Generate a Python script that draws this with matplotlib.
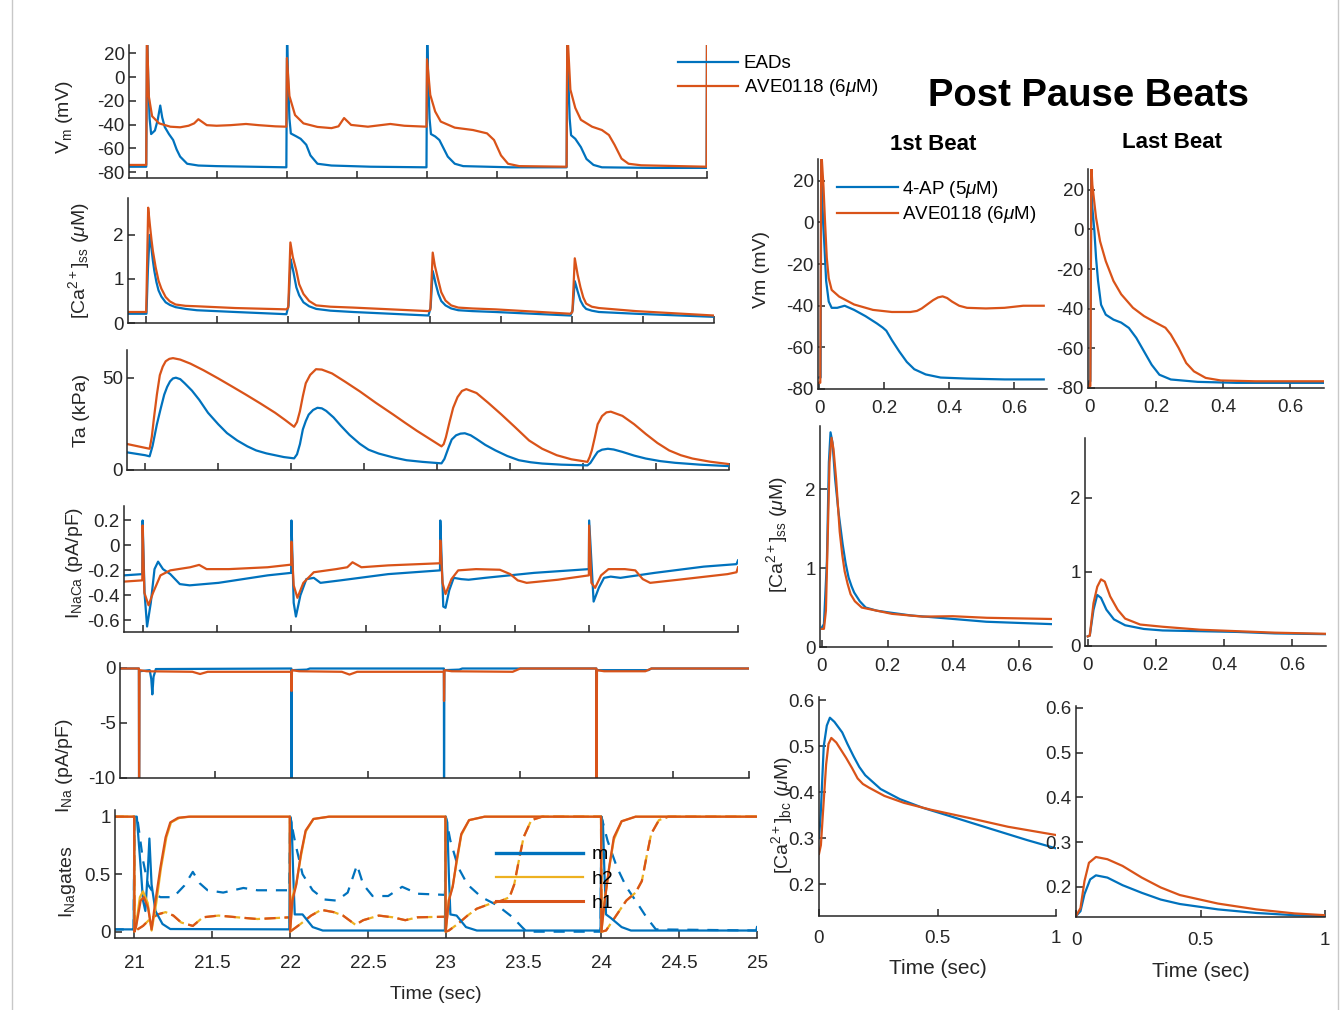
import matplotlib
matplotlib.use('Agg')
from matplotlib import pyplot as plt
from matplotlib.lines import Line2D

BLUE = '#0072BD'
ORANGE = '#D95319'
YELLOW = '#EDB120'

# ---- left column: 4 paced beats (time in s) ----
# membrane potential (mV)
vm_ead = [(20.87, -75.5), (20.998, -75.5), (21.004, 38), (21.012, 0), (21.022, -35), (21.033, -48),
          (21.06, -45), (21.08, -36), (21.098, -24), (21.112, -34), (21.13, -42), (21.16, -48),
          (21.19, -53), (21.215, -61), (21.24, -67), (21.29, -73), (21.37, -74.5), (21.5, -75),
          (21.998, -76), (22.003, 38), (22.01, 0), (22.02, -35), (22.03, -47.5), (22.07, -50),
          (22.1, -52), (22.14, -57), (22.17, -66), (22.22, -73), (22.32, -74.5), (22.6, -75.5),
          (22.998, -76), (23.003, 38), (23.01, 0), (23.02, -35), (23.03, -48), (23.06, -50),
          (23.09, -53), (23.12, -60), (23.15, -67), (23.2, -73), (23.26, -75), (23.6, -76),
          (23.998, -76), (24.003, 38), (24.01, 0), (24.02, -35), (24.03, -49), (24.06, -52),
          (24.1, -59), (24.14, -69), (24.19, -74), (24.25, -76), (24.6, -76.5), (24.997, -76.5),
          (25.0, 38)]
vm_ave = [(20.87, -74), (20.998, -74), (21.003, 40), (21.016, -16), (21.04, -33), (21.09, -39),
          (21.17, -41.8), (21.24, -42.3), (21.3, -41), (21.34, -39), (21.37, -35.5), (21.4, -38),
          (21.43, -40.5), (21.5, -41), (21.6, -40.5), (21.71, -39.5), (21.8, -40.5), (21.92, -41.5),
          (21.998, -41.8), (22.002, 16), (22.02, -16), (22.06, -32), (22.12, -39), (22.22, -42),
          (22.32, -43), (22.37, -41.5), (22.41, -34.5), (22.46, -40.3), (22.58, -41.8), (22.74, -39.5),
          (22.84, -41), (22.998, -41.8), (23.002, 15), (23.025, -15), (23.06, -29), (23.1, -37.5),
          (23.2, -42.6), (23.33, -44.6), (23.43, -47.4), (23.48, -53), (23.53, -66), (23.58, -73),
          (23.66, -75), (23.998, -75.5), (24.003, 40), (24.025, -10.6), (24.06, -26), (24.1, -36),
          (24.18, -41.8), (24.25, -44.6), (24.3, -48.8), (24.34, -57), (24.39, -68.7), (24.44, -73),
          (24.53, -74.3), (24.997, -75.5), (25.0, 40)]

# subspace calcium (uM)
cass_ead = [(20.87, 0.21), (21.005, 0.21), (21.015, 1.2), (21.027, 2.0), (21.04, 1.7), (21.05, 1.42),
            (21.06, 1.19), (21.075, 0.93), (21.09, 0.74), (21.11, 0.6), (21.14, 0.47), (21.17, 0.41),
            (21.21, 0.36), (21.28, 0.32), (21.36, 0.29), (21.63, 0.25), (21.99, 0.2),
            (22.005, 0.4), (22.02, 1.45), (22.03, 1.3), (22.04, 1.15), (22.06, 0.81), (22.08, 0.63),
            (22.11, 0.47), (22.15, 0.38), (22.2, 0.32), (22.3, 0.28), (22.46, 0.25), (22.99, 0.17),
            (23.005, 0.35), (23.02, 1.18), (23.03, 1.05), (23.04, 0.9), (23.06, 0.66), (23.08, 0.5),
            (23.11, 0.4), (23.15, 0.33), (23.2, 0.29), (23.3, 0.27), (23.46, 0.25), (23.99, 0.17),
            (24.005, 0.3), (24.02, 0.95), (24.03, 0.84), (24.04, 0.72), (24.06, 0.51), (24.08, 0.39),
            (24.1, 0.32), (24.14, 0.28), (24.19, 0.25), (24.45, 0.21), (25.0, 0.14)]
cass_ave = [(20.87, 0.25), (21.003, 0.25), (21.017, 2.62), (21.03, 2.2), (21.04, 1.9), (21.05, 1.64),
            (21.07, 1.26), (21.09, 0.96), (21.11, 0.78), (21.14, 0.59), (21.17, 0.49), (21.21, 0.42),
            (21.28, 0.39), (21.36, 0.38), (21.63, 0.34), (21.99, 0.31), (22.003, 0.35),
            (22.018, 1.83), (22.035, 1.5), (22.06, 1.19), (22.08, 0.88), (22.11, 0.66), (22.15, 0.5),
            (22.2, 0.4), (22.3, 0.37), (22.46, 0.35), (22.99, 0.27), (23.003, 0.3), (23.02, 1.6),
            (23.035, 1.3), (23.06, 0.96), (23.08, 0.7), (23.11, 0.51), (23.15, 0.4), (23.2, 0.35),
            (23.3, 0.33), (23.46, 0.31), (23.99, 0.21), (24.003, 0.25), (24.02, 1.47), (24.04, 1.1),
            (24.06, 0.81), (24.08, 0.58), (24.1, 0.44), (24.14, 0.37), (24.19, 0.34), (24.45, 0.27),
            (25.0, 0.17)]

# active tension (kPa)
ta_ead = [(20.88, 9.5), (21.0, 8.0), (21.03, 7.4), (21.05, 13), (21.08, 24.8), (21.105, 33),
          (21.13, 40.8), (21.15, 45), (21.17, 48), (21.19, 49.6), (21.21, 50), (21.24, 49.2),
          (21.27, 47), (21.32, 43), (21.37, 38), (21.43, 31), (21.5, 24.8), (21.56, 20), (21.63, 16),
          (21.7, 12.8), (21.76, 10.6), (21.83, 9), (21.89, 8), (21.95, 7), (22.02, 6.3),
          (22.04, 8.5), (22.06, 14), (22.08, 22), (22.1, 26.5), (22.12, 30), (22.15, 32.5),
          (22.18, 33.7), (22.21, 33.4), (22.24, 32), (22.29, 28.5), (22.34, 24), (22.4, 19),
          (22.47, 14.2), (22.53, 11), (22.6, 8.9), (22.7, 6.8), (22.79, 5.3), (22.9, 4.4),
          (23.03, 3.6), (23.05, 6), (23.08, 12.5), (23.1, 16.5), (23.13, 18.8), (23.16, 19.7),
          (23.19, 19.9), (23.23, 18.8), (23.27, 16.8), (23.33, 13.6), (23.4, 10.6), (23.48, 7.6),
          (23.56, 5.3), (23.64, 4.2), (23.72, 3.5), (23.85, 2.9), (24.03, 2.5), (24.05, 3.8),
          (24.08, 7.5), (24.1, 9.8), (24.13, 11.0), (24.17, 11.5), (24.21, 11.1), (24.27, 9.8),
          (24.35, 7.8), (24.43, 6.2), (24.53, 4.8), (24.63, 3.9), (24.8, 2.9), (25.0, 2.1)]
ta_ave = [(20.88, 14), (21.0, 12), (21.03, 11.5), (21.045, 18), (21.06, 28.4), (21.08, 41),
          (21.1, 51.4), (21.12, 56), (21.14, 58.9), (21.165, 60.2), (21.19, 60.6), (21.24, 59.8),
          (21.31, 57.6), (21.4, 54), (21.5, 49.6), (21.6, 45), (21.69, 40.8), (21.79, 36),
          (21.89, 31), (21.96, 27), (22.02, 23.4), (22.04, 26), (22.06, 31.9), (22.08, 40),
          (22.1, 47), (22.13, 51.5), (22.17, 54.6), (22.21, 54.4), (22.28, 52.3), (22.37, 47.8),
          (22.47, 42.6), (22.58, 36.4), (22.7, 30), (22.78, 25.6), (22.86, 21.3), (22.95, 16.8),
          (23.03, 12.8), (23.045, 14), (23.06, 17.7), (23.085, 26), (23.11, 33.7), (23.14, 39.5),
          (23.17, 42.8), (23.2, 43.8), (23.27, 41.7), (23.35, 36.4), (23.44, 30.1), (23.53, 23.5),
          (23.63, 16), (23.72, 11.5), (23.82, 8), (23.92, 5.8), (24.03, 4.4), (24.045, 7),
          (24.06, 10.6), (24.08, 17.5), (24.1, 24.8), (24.13, 29.2), (24.16, 31.2), (24.19, 31.6),
          (24.27, 29.3), (24.35, 24.8), (24.43, 19.5), (24.51, 14.6), (24.59, 10.6), (24.67, 8),
          (24.75, 6.2), (24.87, 4.5), (25.0, 3.2)]

# Na/Ca exchanger current (pA/pF)
inaca_ead = [(20.876, -0.24), (20.998, -0.23), (21.0, 0.2), (21.013, -0.38), (21.03, -0.65),
             (21.055, -0.46), (21.08, -0.19), (21.104, -0.13), (21.137, -0.19), (21.186, -0.23),
             (21.25, -0.31), (21.316, -0.32), (21.51, -0.3), (21.84, -0.24), (21.998, -0.22),
             (22.0, 0.2), (22.015, -0.46), (22.03, -0.57), (22.06, -0.4), (22.1, -0.27), (22.15, -0.26),
             (22.195, -0.3), (22.33, -0.28), (22.65, -0.23), (22.998, -0.2), (23.0, 0.2), (23.02, -0.49),
             (23.035, -0.5), (23.06, -0.36), (23.09, -0.26), (23.14, -0.27), (23.19, -0.275),
             (23.3, -0.26), (23.63, -0.22), (23.998, -0.19), (24.0, 0.2), (24.03, -0.45),
             (24.065, -0.34), (24.1, -0.26), (24.145, -0.25), (24.21, -0.26), (24.44, -0.22),
             (24.77, -0.17), (24.99, -0.15), (25.0, -0.12)]
inaca_ave = [(20.876, -0.29), (20.998, -0.28), (21.0, 0.16), (21.012, -0.38), (21.04, -0.48),
             (21.07, -0.38), (21.12, -0.24), (21.186, -0.2), (21.32, -0.175), (21.38, -0.156),
             (21.43, -0.19), (21.58, -0.19), (21.84, -0.175), (21.998, -0.154), (22.0, 0.03),
             (22.015, -0.32), (22.04, -0.42), (22.08, -0.3), (22.15, -0.215), (22.3, -0.19),
             (22.375, -0.175), (22.41, -0.135), (22.47, -0.175), (22.65, -0.16), (22.998, -0.143),
             (23.0, 0.04), (23.015, -0.3), (23.035, -0.39), (23.075, -0.27), (23.12, -0.2),
             (23.24, -0.19), (23.4, -0.195), (23.47, -0.23), (23.52, -0.28), (23.58, -0.3),
             (23.79, -0.275), (23.998, -0.24), (24.0, 0.16), (24.015, -0.3), (24.04, -0.34),
             (24.08, -0.24), (24.13, -0.19), (24.24, -0.19), (24.31, -0.2), (24.36, -0.27),
             (24.41, -0.3), (24.6, -0.275), (24.93, -0.23), (24.99, -0.215), (25.0, -0.175)]

# fast Na current (pA/pF), spikes go below the axis
ina_ead = [(20.87, -0.05), (20.999, -0.05), (21.0, -11), (21.002, -0.3), (21.07, -0.2), (21.08, -1.0),
           (21.087, -2.4), (21.095, -0.8), (21.11, -0.1), (21.999, -0.05), (22.0, -11), (22.002, -0.2),
           (22.1, -0.15), (22.12, -0.05), (22.999, -0.05), (23.0, -11), (23.002, -0.2), (23.1, -0.15),
           (23.12, -0.05), (23.999, -0.05), (24.0, -11), (24.002, -0.2), (24.34, -0.2), (24.36, -0.05),
           (25.0, -0.05)]
ina_ave = [(20.87, -0.05), (20.999, -0.05), (21.0, -11), (21.003, -0.2), (21.05, -0.3), (21.35, -0.35),
           (21.4, -0.55), (21.45, -0.35), (21.999, -0.35), (22.0, -2.1), (22.003, -0.2), (22.05, -0.3),
           (22.33, -0.35), (22.38, -0.6), (22.43, -0.35), (22.999, -0.35), (23.0, -3.0), (23.003, -0.2),
           (23.05, -0.3), (23.45, -0.35), (23.5, -0.05), (23.999, -0.05), (24.0, -11), (24.003, -0.2),
           (24.05, -0.3), (24.32, -0.3), (24.36, -0.05), (25.0, -0.05)]

# INa gates (solid = EADs, dashed = AVE0118)
m_ead = [(20.86, 0.02), (20.995, 0.02), (21.0, 1.0), (21.015, 1.0), (21.04, 0.56), (21.055, 0.27),
         (21.07, 0.18), (21.087, 0.56), (21.096, 0.81), (21.11, 0.41), (21.135, 0.18), (21.18, 0.067),
         (21.23, 0.023), (21.995, 0.02), (22.0, 1.0), (22.01, 0.95), (22.02, 0.5), (22.03, 0.15),
         (22.08, 0.15), (22.145, 0.04), (22.21, 0.01), (22.995, 0.01), (23.0, 1.0), (23.01, 0.95),
         (23.02, 0.5), (23.03, 0.15), (23.07, 0.14), (23.13, 0.04), (23.2, 0.01), (23.995, 0.01),
         (24.0, 1.0), (24.01, 0.95), (24.02, 0.5), (24.03, 0.15), (24.06, 0.12), (24.13, 0.04),
         (24.19, 0.01), (24.995, 0.01), (25.0, 0.04)]
m_ave = [(20.86, 0.02), (20.995, 0.02), (21.0, 1.0), (21.02, 0.97), (21.055, 0.62), (21.087, 0.41),
         (21.125, 0.33), (21.167, 0.3), (21.25, 0.3), (21.32, 0.4), (21.375, 0.52), (21.42, 0.42),
         (21.47, 0.36), (21.57, 0.34), (21.7, 0.38), (21.79, 0.36), (21.995, 0.36), (22.0, 1.0),
         (22.035, 0.76), (22.08, 0.5), (22.145, 0.36), (22.22, 0.28), (22.3, 0.27), (22.37, 0.34),
         (22.41, 0.5), (22.43, 0.58), (22.47, 0.41), (22.53, 0.31), (22.63, 0.31), (22.72, 0.39),
         (22.82, 0.33), (22.995, 0.32), (23.0, 1.0), (23.03, 0.79), (23.08, 0.56), (23.14, 0.41),
         (23.23, 0.3), (23.33, 0.23), (23.43, 0.125), (23.49, 0.04), (23.52, 0.0), (23.995, 0.0),
         (24.0, 1.0), (24.04, 0.79), (24.1, 0.56), (24.16, 0.39), (24.22, 0.27), (24.29, 0.125),
         (24.35, 0.02), (25.0, 0.01)]
h1_ead = [(20.86, 1.0), (20.998, 1.0), (21.0, 0.0), (21.01, 0.04), (21.04, 0.27), (21.06, 0.3),
          (21.087, 0.21), (21.11, 0.02), (21.135, 0.27), (21.167, 0.56), (21.2, 0.82), (21.23, 0.95),
          (21.28, 0.99), (21.35, 1.0), (21.998, 1.0), (22.0, 0.0), (22.015, 0.27), (22.04, 0.41),
          (22.07, 0.68), (22.1, 0.88), (22.15, 0.98), (22.25, 1.0), (22.998, 1.0), (23.0, 0.0),
          (23.02, 0.27), (23.045, 0.39), (23.07, 0.62), (23.1, 0.85), (23.15, 0.97), (23.25, 1.0),
          (23.998, 1.0), (24.0, 0.0), (24.02, 0.25), (24.05, 0.56), (24.08, 0.82), (24.13, 0.96),
          (24.22, 1.0), (25.0, 1.0)]
h2_ead = [(20.86, 1.0), (20.998, 1.0), (21.0, 0.0), (21.01, 0.05), (21.035, 0.3), (21.055, 0.35),
          (21.085, 0.25), (21.11, 0.01), (21.14, 0.25), (21.17, 0.55), (21.205, 0.82), (21.235, 0.95),
          (21.29, 0.99), (21.36, 1.0), (21.998, 1.0), (22.0, 0.0), (22.015, 0.3), (22.04, 0.42),
          (22.07, 0.66), (22.1, 0.87), (22.15, 0.98), (22.25, 1.0), (22.998, 1.0), (23.0, 0.0),
          (23.02, 0.28), (23.045, 0.4), (23.07, 0.6), (23.1, 0.84), (23.15, 0.97), (23.25, 1.0),
          (23.998, 1.0), (24.0, 0.0), (24.02, 0.26), (24.05, 0.55), (24.08, 0.8), (24.13, 0.96),
          (24.22, 1.0), (25.0, 1.0)]
h1_ave = [(20.86, 1.0), (20.998, 1.0), (21.0, 0.0), (21.02, 0.02), (21.055, 0.05), (21.1, 0.11),
          (21.15, 0.15), (21.2, 0.17), (21.25, 0.14), (21.3, 0.08), (21.375, 0.05), (21.44, 0.125),
          (21.54, 0.14), (21.66, 0.125), (21.79, 0.11), (21.998, 0.125), (22.0, 0.0), (22.02, 0.02),
          (22.07, 0.07), (22.135, 0.14), (22.2, 0.19), (22.28, 0.17), (22.34, 0.14), (22.42, 0.06),
          (22.47, 0.1), (22.57, 0.14), (22.66, 0.125), (22.74, 0.1), (22.82, 0.125), (22.998, 0.13),
          (23.0, 0.0), (23.02, 0.01), (23.08, 0.07), (23.14, 0.14), (23.2, 0.2), (23.28, 0.24),
          (23.36, 0.27), (23.41, 0.3), (23.44, 0.41), (23.47, 0.62), (23.5, 0.82), (23.55, 0.97),
          (23.62, 1.0), (23.998, 1.0), (24.0, 0.0), (24.03, 0.01), (24.1, 0.15), (24.16, 0.27),
          (24.22, 0.34), (24.26, 0.44), (24.29, 0.65), (24.32, 0.85), (24.37, 0.97), (24.43, 1.0),
          (25.0, 1.0)]
h2_ave = list(h1_ave)  # the two dashed gates lie on top of each other

# ---- right column: post pause beats (time from stimulus, s) ----
vm_first_4ap = [(0.0, -74.5), (0.004, -74.5), (0.006, 30), (0.009, 10.5), (0.015, -9), (0.021, -28),
                (0.029, -38), (0.038, -41), (0.055, -41), (0.078, -40), (0.107, -42), (0.142, -45),
                (0.177, -48.5), (0.195, -50.5), (0.206, -52), (0.223, -56.5), (0.246, -62), (0.269, -67),
                (0.292, -70.5), (0.327, -73), (0.373, -74.5), (0.454, -75), (0.57, -75.4), (0.69, -75.4)]
vm_first_ave = [(0.0, -77), (0.003, -77), (0.006, 35), (0.013, 16.8), (0.017, 2.4), (0.023, -17),
                (0.029, -26.8), (0.038, -32.4), (0.061, -35.6), (0.107, -39.4), (0.165, -42),
                (0.223, -43), (0.28, -43), (0.3, -42.5), (0.315, -41.3), (0.335, -39), (0.35, -37.3),
                (0.365, -36), (0.379, -35.5), (0.393, -36.3), (0.408, -38), (0.43, -40), (0.454, -41),
                (0.512, -41.3), (0.569, -41), (0.627, -40), (0.69, -40)]
vm_last_4ap = [(0.0, -76.6), (0.003, -76.6), (0.006, 28), (0.009, 11), (0.015, -0.8), (0.02, -14.3),
               (0.026, -26), (0.035, -38), (0.049, -43), (0.072, -45.5), (0.095, -47), (0.118, -49.7),
               (0.14, -54.7), (0.163, -61.5), (0.186, -68.3), (0.209, -73.3), (0.243, -75.7),
               (0.323, -76.9), (0.438, -77.4), (0.7, -77.4)]
vm_last_ave = [(0.0, -79), (0.003, -79), (0.006, 32), (0.009, 22.5), (0.02, 5.9), (0.032, -6),
               (0.049, -16), (0.072, -26), (0.095, -32.7), (0.13, -39.5), (0.163, -43.7), (0.198, -47),
               (0.227, -49.6), (0.243, -53), (0.266, -59.7), (0.289, -67.4), (0.312, -71.6),
               (0.347, -74.9), (0.392, -76.2), (0.495, -76.6), (0.7, -76.6)]

cass_first_4ap = [(0.0, 0.25), (0.006, 0.29), (0.015, 1.09), (0.021, 2.34), (0.026, 2.72), (0.032, 2.59),
                  (0.04, 2.13), (0.05, 1.72), (0.063, 1.3), (0.072, 1.06), (0.081, 0.88), (0.09, 0.77),
                  (0.098, 0.69), (0.115, 0.58), (0.133, 0.5), (0.167, 0.46), (0.2, 0.44), (0.27, 0.4),
                  (0.386, 0.36), (0.5, 0.32), (0.698, 0.29)]
cass_first_ave = [(0.0, 0.23), (0.006, 0.23), (0.012, 0.46), (0.017, 1.3), (0.023, 2.34), (0.029, 2.65),
                  (0.035, 2.51), (0.043, 2.13), (0.054, 1.46), (0.062, 1.16), (0.069, 0.96),
                  (0.078, 0.8), (0.087, 0.67), (0.1, 0.58), (0.121, 0.5), (0.167, 0.46), (0.213, 0.42),
                  (0.306, 0.385), (0.398, 0.39), (0.502, 0.37), (0.698, 0.355)]
cass_last_4ap = [(0.0, 0.13), (0.006, 0.14), (0.017, 0.49), (0.028, 0.69), (0.039, 0.65), (0.055, 0.49),
                 (0.077, 0.36), (0.11, 0.28), (0.165, 0.23), (0.22, 0.21), (0.33, 0.2), (0.44, 0.19),
                 (0.55, 0.17), (0.7, 0.16)]
cass_last_ave = [(0.0, 0.13), (0.006, 0.14), (0.017, 0.58), (0.028, 0.8), (0.039, 0.9), (0.05, 0.87),
                 (0.066, 0.67), (0.088, 0.49), (0.11, 0.37), (0.154, 0.29), (0.22, 0.26), (0.33, 0.22),
                 (0.44, 0.2), (0.55, 0.18), (0.7, 0.165)]

cabc_first_4ap = [(0.0, 0.3), (0.007, 0.35), (0.02, 0.5), (0.033, 0.545), (0.046, 0.562), (0.065, 0.553),
                  (0.098, 0.53), (0.12, 0.505), (0.146, 0.478), (0.17, 0.455), (0.195, 0.437),
                  (0.26, 0.407), (0.341, 0.385), (0.439, 0.366), (0.553, 0.348), (0.715, 0.322),
                  (0.878, 0.296), (1.0, 0.278)]
cabc_first_ave = [(0.0, 0.266), (0.008, 0.285), (0.016, 0.35), (0.03, 0.46), (0.04, 0.505), (0.052, 0.518),
                  (0.073, 0.508), (0.114, 0.475), (0.14, 0.452), (0.163, 0.43), (0.185, 0.418),
                  (0.211, 0.41), (0.276, 0.392), (0.358, 0.377), (0.472, 0.362), (0.634, 0.344),
                  (0.797, 0.325), (1.0, 0.307)]
cabc_last_4ap = [(0.0, 0.135), (0.018, 0.146), (0.034, 0.184), (0.057, 0.217), (0.08, 0.226),
                 (0.126, 0.221), (0.187, 0.204), (0.264, 0.187), (0.34, 0.172), (0.417, 0.162),
                 (0.57, 0.15), (0.724, 0.142), (0.877, 0.137), (1.0, 0.135)]
cabc_last_ave = [(0.0, 0.135), (0.018, 0.153), (0.034, 0.213), (0.052, 0.254), (0.08, 0.267),
                 (0.126, 0.262), (0.187, 0.247), (0.264, 0.221), (0.34, 0.199), (0.417, 0.182),
                 (0.57, 0.163), (0.724, 0.15), (0.877, 0.141), (1.0, 0.137)]

beat_ticks = [21, 21.5, 22, 22.5, 23, 23.5, 24, 24.5, 25]
beat_ticklabels = ['21', '21.5', '22', '22.5', '23', '23.5', '24', '24.5', '25']


plt.rcParams['font.family'] = ['Liberation Sans', 'DejaVu Sans']
plt.rcParams['mathtext.fontset'] = 'custom'
plt.rcParams['mathtext.rm'] = 'Liberation Sans'
plt.rcParams['mathtext.it'] = 'Liberation Sans:italic'
plt.rcParams['mathtext.bf'] = 'Liberation Sans:bold'
plt.rcParams['axes.unicode_minus'] = False
plt.rcParams['font.size'] = 13

W, H = 1342, 1010
fig = plt.figure(figsize=(W / 100, H / 100), dpi=100)
AX_COLOR = '#262626'


def panel(box, xlim, ylim, xticks, yticks, ylabel=None, label_xy=None):
    """box is (left, top, right, bottom) in pixels"""
    l, t, r, b = box
    ax = fig.add_axes([l / W, 1 - b / H, (r - l) / W, (b - t) / H])
    ax.set_xlim(xlim)
    ax.set_ylim(ylim)
    ax.set_xticks(xticks)
    ax.set_yticks(yticks)
    for s in ['top', 'right']:
        ax.spines[s].set_visible(False)
    for s in ['left', 'bottom']:
        ax.spines[s].set_color(AX_COLOR)
        ax.spines[s].set_linewidth(1.1)
    ax.tick_params(direction='in', length=5, width=1.1, colors=AX_COLOR,
                   labelcolor=AX_COLOR, labelsize=13.5, pad=3)
    if ylabel:
        ax.set_ylabel(ylabel, fontsize=14, color=AX_COLOR)
        ax.yaxis.set_label_coords(*label_xy)
    return ax


def draw(ax, pairs, color, **kw):
    t, v = zip(*pairs)
    return ax.plot(t, v, color=color, lw=1.6, **kw)[0]


xl = (20.875, 25.0)

# Vm
ax = panel((129, 45, 707, 178), xl, (-85, 27), beat_ticks, [-80, -60, -40, -20, 0, 20],
           r'V$_{\rm m}$ (mV)', (-0.093, 0.46))
ax.set_xticklabels([])
l1 = draw(ax, vm_ead, BLUE)
l2 = draw(ax, vm_ave, ORANGE)
fig.legend([l1, l2], ['EADs', r'AVE0118 (6$\mu$M)'], loc='upper left',
           bbox_to_anchor=(667 / W, 1 - 44 / H), frameon=False, fontsize=13.5,
           handlelength=3.2, handletextpad=0.3, labelspacing=0.25, borderpad=0.1)

# Ca_ss
ax = panel((128, 198, 714, 323), xl, (0, 2.84), beat_ticks, [0, 1, 2],
           r'[Ca$^{2+}$]$_{\rm ss}$ ($\mu$M)', (-0.061, 0.5))
ax.set_xticklabels([])
draw(ax, cass_ead, BLUE)
draw(ax, cass_ave, ORANGE)

# Ta
ax = panel((127, 350, 729, 470), xl, (0, 65), beat_ticks, [0, 50],
           'Ta (kPa)', (-0.061, 0.5))
ax.set_xticklabels([])
draw(ax, ta_ead, BLUE)
draw(ax, ta_ave, ORANGE)

# INaCa
ax = panel((124, 506, 738, 632), xl, (-0.694, 0.316), beat_ticks, [-0.6, -0.4, -0.2, 0, 0.2],
           r'I$_{\rm NaCa}$ (pA/pF)', (-0.064, 0.55))
ax.set_xticklabels([])
ax.set_yticklabels(['-0.6', '-0.4', '-0.2', '0', '0.2'])
draw(ax, inaca_ead, BLUE)
draw(ax, inaca_ave, ORANGE)

# INa
ax = panel((120, 663, 749, 778), xl, (-10, 0.45), beat_ticks, [-10, -5, 0],
           r'I$_{\rm Na}$ (pA/pF)', (-0.072, 0.11))
ax.set_xticklabels([])
draw(ax, ina_ead, BLUE)
draw(ax, ina_ave, ORANGE)

# INa gates
ax = panel((115, 810, 757, 938), xl, (-0.055, 1.058), beat_ticks, [0, 0.5, 1],
           r'I$_{\rm Na}$gates', (-0.058, 0.44))
ax.set_xticklabels(beat_ticklabels)
ax.set_yticklabels(['0', '0.5', '1'])
ax.tick_params(axis='x', pad=12)
ax.set_xlabel('Time (sec)', fontsize=14, color=AX_COLOR, labelpad=10)
draw(ax, m_ave, BLUE, ls=(0, (5, 4)))
draw(ax, h2_ave, YELLOW, ls=(0, (7, 2)))
draw(ax, h1_ave, ORANGE, ls=(0, (5, 4)))
draw(ax, m_ead, BLUE)
draw(ax, h2_ead, YELLOW)
draw(ax, h1_ead, ORANGE)
ax.legend([Line2D([], [], color=BLUE, lw=2.4), Line2D([], [], color=YELLOW, lw=1.6),
           Line2D([], [], color=ORANGE, lw=2.2)], ['m', 'h2', 'h1'],
          loc='upper left', bbox_to_anchor=((486 - 115) / 642, (938 - 836) / 128),
          frameon=False, fontsize=14, handlelength=4.5, handletextpad=0.45, labelspacing=0.35,
          borderpad=0)

# ---- right column ----
fig.text(1089 / W, 1 - 96 / H, 'Post Pause Beats', ha='center', va='center',
         fontsize=27.5, fontweight='bold', color='black')
fig.text(933 / W, 1 - 145 / H, '1st Beat', ha='center', va='center', fontsize=16, fontweight='bold')
fig.text(1172 / W, 1 - 143 / H, 'Last Beat', ha='center', va='center', fontsize=16, fontweight='bold')

vm_ticks = [-80, -60, -40, -20, 0, 20]
ax = panel((818, 159, 1047, 389), (-0.004, 0.7), (-80, 30.5), [0, 0.2, 0.4, 0.6], vm_ticks,
           'Vm (mV)', (-0.21, 0.52))
ax.set_xticklabels(['0', '0.2', '0.4', '0.6'])
ax.tick_params(axis='x', pad=8)
r1 = draw(ax, vm_first_4ap, BLUE)
r2 = draw(ax, vm_first_ave, ORANGE)
ax.legend([r1, r2], [r'4-AP (5$\mu$M)', r'AVE0118 (6$\mu$M)'], loc='upper left',
          bbox_to_anchor=(0.04, 0.955), frameon=False, fontsize=13.5, handlelength=3.3,
          handletextpad=0.2, labelspacing=0.25, borderpad=0)

ax = panel((1088, 169, 1324, 388), (-0.004, 0.7), (-80, 30.5), [0, 0.2, 0.4, 0.6], vm_ticks)
ax.set_xticklabels(['0', '0.2', '0.4', '0.6'])
ax.tick_params(axis='x', pad=8)
draw(ax, vm_last_4ap, BLUE)
draw(ax, vm_last_ave, ORANGE)

ax = panel((820, 426, 1052, 647), (-0.006, 0.7), (0, 2.8), [0, 0.2, 0.4, 0.6], [0, 1, 2],
           r'[Ca$^{2+}$]$_{\rm ss}$ ($\mu$M)', (-0.13, 0.51))
ax.set_xticklabels(['0', '0.2', '0.4', '0.6'])
ax.tick_params(axis='x', pad=8)
draw(ax, cass_first_4ap, BLUE)
draw(ax, cass_first_ave, ORANGE)

ax = panel((1085, 438, 1326, 646), (-0.008, 0.7), (0, 2.81), [0, 0.2, 0.4, 0.6], [0, 1, 2])
ax.set_xticklabels(['0', '0.2', '0.4', '0.6'])
ax.tick_params(axis='x', pad=8)
draw(ax, cass_last_4ap, BLUE)
draw(ax, cass_last_ave, ORANGE)

ax = panel((819, 697, 1056, 916), (0, 1), (0.131, 0.607), [0, 0.5, 1], [0.2, 0.3, 0.4, 0.5, 0.6],
           r'[Ca$^{2+}$]$_{\rm bc}$ ($\mu$M)', (-0.1, 0.46))
ax.set_xticklabels(['0', '0.5', '1'])
ax.tick_params(axis='x', pad=10)
ax.set_xlabel('Time (sec)', fontsize=15, color=AX_COLOR, labelpad=9)
draw(ax, cabc_first_4ap, BLUE)
draw(ax, cabc_first_ave, ORANGE)

ax = panel((1076, 706, 1325, 917), (0, 1), (0.133, 0.604), [0, 0.5, 1], [0.2, 0.3, 0.4, 0.5, 0.6])
ax.set_xticklabels(['0', '0.5', '1'])
ax.tick_params(axis='x', pad=11)
ax.set_xlabel('Time (sec)', fontsize=15, color=AX_COLOR, labelpad=9)
draw(ax, cabc_last_4ap, BLUE)
draw(ax, cabc_last_ave, ORANGE)

# screenshot frame lines
fig.add_artist(Line2D([12 / W, 12 / W], [0, 1], color='#c8c8c8', lw=1))
fig.add_artist(Line2D([1338 / W, 1338 / W], [0, 1], color='#c8c8c8', lw=1))

fig.savefig('out.png', dpi=100)
